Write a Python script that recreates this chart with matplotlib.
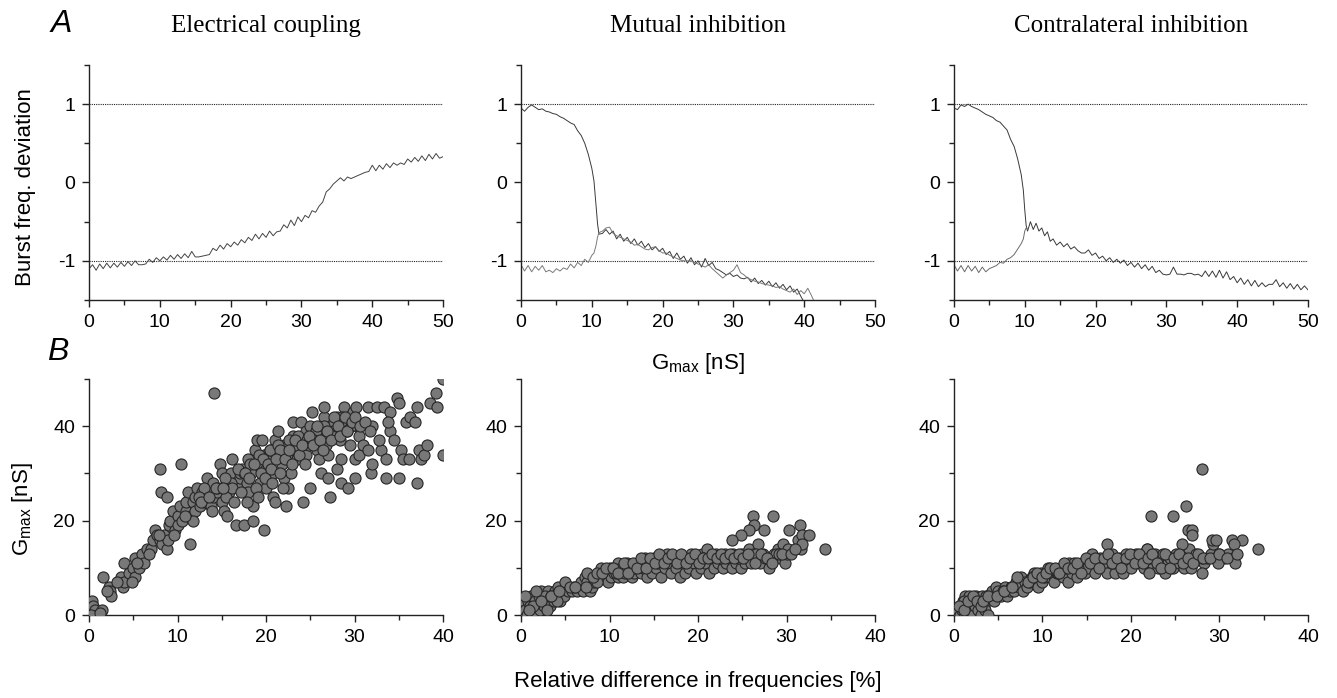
import numpy as np
import matplotlib.pyplot as plt
from matplotlib.ticker import MultipleLocator

plt.rcParams['font.family'] = ['Liberation Sans', 'DejaVu Sans']
plt.rcParams['mathtext.fontset'] = 'custom'
plt.rcParams['mathtext.rm'] = 'Liberation Sans'
plt.rcParams['mathtext.it'] = 'Liberation Sans:italic'
plt.rcParams['axes.unicode_minus'] = False

titles = ['Electrical coupling', 'Mutual inhibition', 'Contralateral inhibition']

# ---- A: burst frequency deviation vs Gmax ----
ec_x = [0, 0.5, 1, 1.5, 2, 2.5, 3, 3.5, 4, 4.5, 5, 5.5, 6, 6.5, 7, 7.5, 8, 8.5, 9, 9.5,
        10, 10.5, 11, 11.5, 12, 12.5, 13, 13.5, 14, 14.5, 15, 15.5, 16, 16.5, 17, 17.5, 18, 18.5, 19, 19.5,
        20, 20.5, 21, 21.5, 22, 22.5, 23, 23.5, 24, 24.5, 25, 25.5, 26, 26.5, 27, 27.5, 28, 28.5, 29, 29.5,
        30, 30.5, 31, 31.5, 32, 32.5, 33, 33.5, 34, 34.5, 35, 35.5, 36, 36.5, 37, 37.5, 38, 38.5, 39, 39.5,
        40, 40.5, 41, 41.5, 42, 42.5, 43, 43.5, 44, 44.5, 45, 45.5, 46, 46.5, 47, 47.5, 48, 48.5, 49, 49.5, 50]
ec_y = [-1.10, -1.05, -1.12, -1.04, -1.10, -1.03, -1.09, -1.03, -1.08, -1.02,
        -1.07, -1.01, -1.06, -1.00, -1.05, -1.05, -1.04, -0.98, -1.02, -0.96,
        -1.00, -0.95, -0.99, -0.93, -0.98, -0.92, -0.97, -0.91, -0.96, -0.88,
        -0.95, -0.95, -0.94, -0.93, -0.92, -0.84, -0.87, -0.80, -0.85, -0.78,
        -0.82, -0.76, -0.80, -0.73, -0.77, -0.70, -0.74, -0.66, -0.72, -0.65,
        -0.70, -0.62, -0.68, -0.63, -0.62, -0.54, -0.58, -0.48, -0.55, -0.44,
        -0.50, -0.42, -0.45, -0.36, -0.38, -0.30, -0.25, -0.12, -0.08, -0.02,
        0.02, 0.06, 0.02, 0.07, 0.05, 0.07, 0.09, 0.11, 0.13, 0.14,
        0.22, 0.15, 0.22, 0.17, 0.24, 0.19, 0.25, 0.22, 0.25, 0.23,
        0.30, 0.26, 0.32, 0.27, 0.34, 0.28, 0.36, 0.30, 0.37, 0.31, 0.33]

# mutual inhibition: branch starting near +1 and branch starting near -1
mi_a_x = [0, 0.5, 1, 1.5, 2, 2.5, 3, 3.5, 4, 4.5, 5, 5.5, 6, 6.5, 7, 7.5, 8, 8.5, 9, 9.5,
          10, 10.3, 10.6, 10.8, 11, 11.5, 12, 12.5, 13, 13.5, 14, 14.5, 15, 15.5, 16, 16.5, 17, 17.5,
          18, 18.5, 19, 19.5, 20, 20.5, 21, 21.5, 22, 22.5, 23, 23.5, 24, 24.5, 25, 25.5, 26, 26.5,
          27, 27.5, 28, 28.5, 29, 29.5, 30, 30.5, 31, 31.5, 32, 32.5, 33, 33.5, 34, 34.5, 35, 35.5,
          36, 36.5, 37, 37.5, 38, 38.5, 39, 39.5, 39.8]
mi_a_y = [0.95, 0.91, 0.96, 0.99, 0.96, 0.93, 0.94, 0.91, 0.90, 0.88, 0.87, 0.84, 0.82, 0.79, 0.76, 0.74,
          0.66, 0.60, 0.50, 0.36, 0.18, 0.02, -0.30, -0.52, -0.66,
          -0.65, -0.60, -0.66, -0.62, -0.72, -0.66, -0.75, -0.70, -0.78, -0.72, -0.80, -0.75, -0.83,
          -0.78, -0.86, -0.82, -0.88, -0.84, -0.92, -0.88, -0.97, -0.90, -0.98, -0.94, -1.03, -0.96, -1.05,
          -1.00, -1.08, -0.97, -1.06, -1.02, -1.10, -1.12, -1.15, -1.18, -1.16, -1.20, -1.18, -1.22, -1.23,
          -1.21, -1.27, -1.22, -1.29, -1.25, -1.31, -1.26, -1.33, -1.28, -1.35, -1.30, -1.37, -1.32, -1.40,
          -1.36, -1.45, -1.50]
mi_b_x = [0, 0.5, 1, 1.5, 2, 2.5, 3, 3.5, 4, 4.5, 5, 5.5, 6, 6.5, 7, 7.5, 8, 8.5, 9, 9.5,
          10, 10.3, 10.6, 10.8, 11, 11.5, 12, 12.5, 13, 13.5, 14, 14.5, 15, 15.5, 16, 16.5, 17, 17.5,
          18, 18.5, 19, 19.5, 20, 20.5, 21, 21.5, 22, 22.5, 23, 23.5, 24, 24.5, 25, 25.5, 26, 26.5,
          27, 27.5, 28, 28.5, 29, 29.5, 30, 30.5, 31, 31.5, 32, 32.5, 33, 33.5, 34, 34.5, 35, 35.5,
          36, 36.5, 37, 37.5, 38, 38.5, 39, 39.5, 40, 40.5, 41, 41.3]
mi_b_y = [-1.05, -1.13, -1.06, -1.14, -1.07, -1.12, -1.06, -1.14, -1.12, -1.15, -1.10, -1.13, -1.09,
          -1.11, -1.04, -1.09, -1.02, -1.06, -0.98, -1.02, -0.93, -0.90, -0.80, -0.70, -0.64,
          -0.62, -0.58, -0.57, -0.65, -0.68, -0.70, -0.72, -0.74, -0.76, -0.80, -0.79, -0.82, -0.85,
          -0.86, -0.83, -0.82, -0.87, -0.90, -0.90, -0.93, -0.95, -0.97, -0.99, -1.00, -1.00, -1.00, -1.02,
          -1.04, -1.06, -1.08, -1.05, -1.10, -1.14, -1.18, -1.22, -1.18, -1.15, -1.12, -1.05, -1.15, -1.18,
          -1.22, -1.24, -1.26, -1.27, -1.29, -1.30, -1.31, -1.32, -1.34, -1.33, -1.36, -1.38, -1.40, -1.36,
          -1.43, -1.38, -1.42, -1.35, -1.44, -1.50]

# contralateral inhibition
ci_a_x = [0, 0.5, 1, 1.5, 2, 2.5, 3, 3.5, 4, 4.5, 5, 5.5, 6, 6.5, 7, 7.5, 8, 8.5, 9, 9.5,
          9.8, 10, 10.2, 10.4, 10.8, 11.2, 11.6, 12, 12.4, 12.8, 13.2, 13.6, 14, 14.5, 15, 15.5, 16, 16.5,
          17, 17.5, 18, 18.5, 19, 19.5, 20, 20.5, 21, 21.5, 22, 22.5, 23, 23.5, 24, 24.5, 25, 25.5, 26,
          26.5, 27, 27.5, 28, 28.5, 29, 29.5, 30, 30.5, 31, 31.5, 32, 32.5, 33, 33.5, 34, 34.5, 35, 35.5,
          36, 36.5, 37, 37.5, 38, 38.5, 39, 39.5, 40, 40.5, 41, 41.5, 42, 42.5, 43, 43.5, 44, 44.5, 45,
          45.5, 46, 46.5, 47, 47.5, 48, 48.5, 49, 49.5, 50]
ci_a_y = [0.95, 0.93, 0.99, 0.97, 1.00, 0.97, 0.95, 0.93, 0.90, 0.87, 0.85, 0.83, 0.79, 0.77, 0.72, 0.67,
          0.55, 0.46, 0.30, 0.10, -0.10, -0.35, -0.55, -0.62,
          -0.50, -0.60, -0.52, -0.62, -0.58, -0.68, -0.63, -0.75, -0.72, -0.80, -0.76, -0.82, -0.78, -0.85,
          -0.82, -0.87, -0.90, -0.90, -0.86, -0.93, -0.90, -0.97, -0.94, -1.00, -0.96, -1.02, -0.98, -1.03,
          -0.99, -1.06, -1.02, -1.08, -1.03, -1.10, -1.05, -1.12, -1.07, -1.15, -1.12, -1.17, -1.18, -1.17,
          -1.08, -1.17, -1.17, -1.18, -1.16, -1.16, -1.18, -1.17, -1.20, -1.13, -1.20, -1.13, -1.21, -1.12,
          -1.22, -1.14, -1.24, -1.20, -1.28, -1.22, -1.30, -1.24, -1.32, -1.25, -1.33, -1.28, -1.33, -1.30,
          -1.30, -1.24, -1.33, -1.28, -1.35, -1.29, -1.36, -1.30, -1.37, -1.32, -1.37]
ci_b_x = [0, 0.5, 1, 1.5, 2, 2.5, 3, 3.5, 4, 4.5, 5, 5.5, 6, 6.5, 7, 7.5, 8, 8.5, 9, 9.5,
          9.8, 10, 10.2, 10.4]
ci_b_y = [-1.05, -1.13, -1.06, -1.14, -1.06, -1.13, -1.07, -1.15, -1.08, -1.14, -1.10, -1.08, -1.06,
          -1.02, -1.03, -0.98, -0.96, -0.92, -0.85, -0.78, -0.72, -0.62, -0.58, -0.60]

# ---- B: Gmax vs relative frequency difference ----
ec_sx = [0.3, 0.5, 0.7, 1.0, 1.5, 0.2, 1.2, 1.6, 2.2, 2.4, 2.5, 2.0, 3.6, 3.8, 4.0, 4.0, 4.5, 5.0, 5.2, 5.2,
         5.6, 6.0, 6.2, 6.5, 7.0, 7.2, 7.5, 7.7, 8.0, 8.2, 8.5, 8.8, 8.9, 8.0, 8.1, 8.8, 9.0, 9.2, 9.5, 9.7,
         10.0, 10.0, 10.3, 10.4, 10.5, 11.0, 11.0, 11.2, 11.4, 11.5, 11.7, 12.0, 12.0, 12.2, 12.5, 12.8, 13.0,
         13.3, 13.5, 13.8, 14.0, 14.0, 14.1, 14.5, 14.8, 15.0, 15.0, 15.2, 15.5, 15.6, 15.8, 16.0, 16.2, 16.5,
         16.6, 16.8, 17.0, 17.3, 17.5, 17.8, 18.0, 18.0, 18.3, 18.5, 18.5, 18.7, 19.0, 19.0, 19.3, 19.5, 19.8,
         19.8, 20.0, 20.0, 20.3, 20.5, 20.8, 20.8, 21.0, 21.0, 21.3, 21.5, 21.8, 22.0, 22.0, 22.3, 22.5, 22.5,
         22.8, 23.0, 23.0, 23.3, 23.5, 23.8, 24.0, 24.2, 24.5, 24.5, 24.8, 25.0, 25.0, 25.2, 25.5, 25.8, 26.0,
         26.0, 26.2, 26.5, 26.5, 26.8, 27.0, 27.0, 27.2, 27.5, 27.8, 28.0, 28.0, 28.3, 28.5, 28.5, 28.8, 29.0,
         29.0, 29.3, 29.5, 29.8, 30.0, 30.0, 30.2, 30.3, 30.5, 30.5, 31.0, 31.5, 31.5, 31.8, 32.0, 32.0, 32.5,
         33.0, 33.3, 33.5, 33.5, 34.0, 34.0, 34.5, 34.8, 35.0, 35.0, 35.3, 35.5, 35.8, 36.3, 36.8, 37.0, 37.0,
         37.3, 37.5, 37.8, 38.5, 39.2, 39.3, 40.0, 40.0,
         16.0, 17.0, 18.2, 19.2, 20.4, 21.4, 22.6, 23.6, 24.6, 25.6, 26.6, 27.6, 28.6, 29.6, 13.0, 14.5,
         17.5, 19.6, 21.6, 23.4, 25.4, 27.4, 29.2, 12.4, 15.4,
         15.5, 16.2, 16.8, 17.2, 17.6, 18.1, 18.6, 18.9, 19.4, 19.9, 20.2, 20.6, 21.1, 21.6, 22.1, 22.6,
         22.9, 23.3, 23.7, 24.1, 24.4, 24.9, 25.3, 25.7, 26.1, 26.4, 26.9, 27.3, 27.7, 28.1, 28.4, 28.9,
         29.2, 29.7, 30.1, 30.6, 31.2, 16.4, 17.9, 19.1, 20.7, 21.9, 12.6, 13.6, 14.3, 11.8, 10.8, 9.6,
         13.9, 15.1, 6.8, 5.4, 3.2, 4.8, 7.9, 36.2, 38.2, 33.8, 32.8, 31.7]
ec_sy = [3, 2, 1, 0, 1, 0, 0.5, 8, 6, 5, 4, 5, 8, 6, 7, 11, 9, 10, 8, 12,
         10, 13, 11, 14, 14, 16, 18, 17, 16, 15, 17, 14, 16, 31, 26, 25, 19, 20, 22, 18,
         21, 19, 23, 32, 20, 22, 24, 26, 15, 21, 24, 22, 25, 27, 23, 26, 24,
         29, 26, 23, 28, 25, 47, 26, 32, 30, 24, 22, 28, 21, 26, 30, 33, 28,
         19, 27, 29, 31, 19, 28, 33, 26, 30, 23, 20, 35, 37, 32, 28, 37, 18,
         34, 31, 27, 33, 35, 30, 25, 24, 37, 39, 34, 32, 36, 29, 23, 27, 33,
         30, 38, 41, 35, 33, 37, 41, 24, 39, 34, 36, 27, 40, 43, 38, 35, 33,
         39, 30, 42, 44, 36, 29, 34, 25, 40, 38, 31, 42, 37, 28, 33, 44, 40,
         41, 27, 36, 43, 29, 33, 44, 40, 38, 34, 36, 44, 35, 30, 32, 40, 44,
         35, 44, 33, 29, 43, 39, 37, 46, 45, 29, 35, 33, 41, 42, 41, 44, 28,
         35, 33, 34, 45, 47, 44, 50, 34,
         28, 30, 32, 34, 35, 36, 37, 38, 37, 39, 40, 39, 42, 40, 27, 27,
         30, 33, 35, 36, 37, 38, 39, 25, 29,
         25, 27, 31, 26, 30, 29, 32, 27, 30, 29, 32, 31, 33, 30, 33, 35,
         32, 37, 34, 36, 32, 38, 36, 40, 37, 35, 39, 37, 42, 40, 38, 42,
         39, 41, 42, 40, 41, 24, 24, 25, 28, 27, 24, 25, 27, 20, 21, 17,
         22, 27, 13, 11, 7, 7, 17, 33, 36, 41, 37, 39]

mi_sx = [0.1, 0.2, 0.3, 0.5, 0.7, 0.8, 1.0, 1.1, 1.3, 1.5, 1.6, 1.8, 2.0, 2.1, 2.3, 2.4, 2.6, 2.8, 3.0, 3.1,
         3.3, 3.5, 3.7, 3.8, 4.0, 4.2, 4.4, 4.6, 4.8, 5.0, 5.0, 5.3, 5.8, 6.3, 6.6, 6.8, 7.0, 7.2, 7.5, 7.5,
         7.8, 8.0, 8.3, 8.8, 9.0, 9.3, 9.5, 9.8, 10.0, 10.2, 10.5, 11.0, 11.0, 11.3, 11.5, 11.8, 12.0, 12.3,
         12.5, 12.8, 13.0, 13.2, 13.5, 13.8, 14.0, 14.2, 14.5, 14.8, 15.0, 15.2, 15.5, 15.8, 16.0, 16.3, 16.5,
         16.8, 17.0, 17.2, 17.5, 17.8, 18.0, 18.2, 18.5, 18.8, 19.0, 19.2, 19.5, 19.8, 20.0, 20.3, 20.5, 20.8,
         21.0, 21.2, 21.5, 21.8, 22.0, 22.3, 22.5, 22.8, 23.0, 23.2, 23.5, 23.8, 24.0, 24.3, 24.5, 24.8, 25.0,
         25.3, 25.5, 25.8, 26.0, 26.2, 26.5, 26.8, 27.0, 27.3, 27.6, 28.0, 28.3, 28.6, 29.0, 29.3, 29.6, 29.8,
         30.0, 30.2, 26.2, 26.3, 25.8, 24.8, 23.8, 27.5, 28.5, 30.3, 31.5, 31.3, 31.7, 32.5, 31.6, 31.8, 34.3,
         1.4, 2.7, 3.4, 4.1, 6.0, 8.6, 10.7, 12.7, 14.4, 16.6, 18.6, 20.6, 22.6, 24.6, 26.6, 28.8,
         0.4, 0.9, 1.7, 2.2, 2.9, 3.4, 4.3, 5.5, 6.1, 7.3, 8.1, 8.6, 9.1, 9.6, 10.4, 10.9, 11.6, 12.1,
         12.6, 13.1, 13.6, 14.1, 14.6, 15.1, 15.6, 16.1, 16.6, 17.1, 17.6, 18.1, 18.6, 19.1, 19.6, 20.1,
         20.6, 21.1, 21.6, 22.1, 22.6, 23.1, 23.6, 24.1, 24.6, 25.1, 25.6, 26.4, 27.1, 27.8, 28.4, 29.1,
         29.5, 30.5, 31.0]
mi_sy = [0, 2, 3, 1, 0, 3, 2, 4, 1, 0, 3, 2, 4, 1, 5, 3, 2, 4, 3, 5,
         2, 4, 3, 5, 4, 6, 3, 5, 4, 6, 7, 5, 5, 5, 6, 7, 5, 8, 7, 9,
         5, 6, 7, 8, 10, 8, 9, 7, 10, 8, 9, 8, 11, 10, 8, 9, 11, 10,
         8, 9, 10, 11, 9, 10, 12, 8, 11, 9, 12, 10, 11, 8, 12, 10, 13,
         11, 9, 12, 10, 12, 8, 11, 9, 12, 10, 13, 11, 9, 12, 10, 13, 11,
         14, 9, 12, 10, 13, 11, 12, 10, 13, 11, 12, 10, 13, 11, 12, 10, 13,
         11, 12, 14, 11, 13, 12, 15, 11, 13, 12, 10, 12, 13, 14, 12, 15, 11,
         13, 14, 21, 19, 18, 17, 16, 18, 21, 18, 19, 16, 17, 17, 14, 15, 14,
         2, 4, 4, 3, 6, 7, 9, 10, 11, 12, 12, 12, 12, 12, 13, 13,
         4, 1, 5, 3, 1, 4, 5, 6, 6, 6, 8, 9, 9, 10, 10, 9, 11, 9,
         11, 10, 12, 10, 12, 11, 13, 11, 12, 13, 11, 13, 11, 12, 13, 11,
         12, 12, 13, 12, 13, 12, 13, 12, 13, 12, 13, 11, 13, 12, 11, 13,
         13, 13, 14]

ci_sx = [0.3, 0.5, 0.7, 0.9, 1.0, 1.2, 1.3, 1.5, 1.7, 1.8, 2.0, 2.2, 2.4, 2.5, 2.7, 2.9, 3.0, 3.2, 3.4, 3.5,
         3.7, 3.8, 4.3, 4.5, 4.7, 5.0, 5.3, 5.8, 6.0, 6.3, 6.5, 6.8, 7.0, 7.3, 7.6, 7.8, 8.0, 8.3, 8.6, 9.0,
         9.2, 9.5, 9.8, 10.0, 10.3, 10.6, 10.8, 11.0, 11.3, 11.6, 12.0, 12.3, 12.6, 12.9, 13.0, 13.3, 13.6,
         13.9, 14.2, 14.5, 14.8, 15.0, 15.3, 15.6, 15.9, 16.2, 16.5, 16.8, 17.0, 17.3, 17.6, 17.9, 18.2, 18.5,
         18.8, 19.1, 19.4, 19.7, 20.0, 20.3, 20.6, 20.9, 21.2, 21.5, 21.8, 22.1, 22.4, 22.7, 23.0, 23.3, 23.6,
         23.9, 24.2, 24.5, 24.8, 25.1, 25.4, 25.7, 26.0, 26.3, 26.6, 26.8, 27.1, 27.4, 27.7, 28.3, 28.6, 29.0,
         29.3, 29.5, 30.0, 30.5, 31.0, 31.5, 22.3, 24.8, 26.2, 26.5, 26.9, 26.9, 28.0, 29.2, 29.6, 31.4, 32.6,
         17.3, 25.8, 34.3, 31.6, 28.0, 29.8, 31.8, 22.0, 21.8,
         1.1, 2.6, 3.6, 5.5, 8.8, 11.8, 14.0, 16.0, 18.0, 20.2, 22.2, 24.4, 26.0, 28.0,
         0.6, 1.1, 1.6, 2.1, 2.6, 3.1, 3.3, 3.9, 4.9, 5.6, 6.6, 7.1, 8.4, 8.9, 9.4, 9.9, 10.4, 10.9,
         11.4, 11.9, 12.4, 12.9, 13.4, 13.9, 14.4, 14.9, 15.4, 15.9, 16.4, 16.9, 17.4, 17.9, 18.4, 18.9,
         19.4, 19.9, 20.4, 20.9, 21.4, 21.9, 22.4, 22.9, 23.4, 23.9, 24.4, 24.9, 25.4, 25.9, 26.4, 27.0,
         27.6, 28.1, 28.9, 29.9, 30.8, 32.0]
ci_sy = [0, 1, 0, 1, 3, 4, 0, 2, 4, 1, 3, 0, 2, 4, 1, 3, 0, 4, 2, 1,
         4, 0, 5, 3, 6, 5, 4, 6, 4, 5, 6, 5, 7, 6, 8, 5, 7, 6, 7, 9,
         8, 6, 9, 7, 8, 10, 8, 9, 7, 9, 10, 8, 10, 7, 11, 9, 11,
         8, 10, 11, 9, 10, 12, 13, 9, 11, 12, 10, 11, 9, 12, 13, 9, 11,
         12, 9, 13, 11, 10, 12, 13, 11, 12, 10, 14, 12, 11, 13, 10, 12, 13,
         9, 11, 12, 10, 13, 11, 12, 10, 13, 14, 10, 12, 13, 12, 11, 12, 13,
         15, 12, 13, 12, 13, 12, 21, 21, 23, 18, 18, 17, 31, 16, 16, 16, 16,
         15, 15, 14, 15, 9, 11, 11, 9, 14,
         3, 3, 4, 5, 8, 9, 10, 11, 11, 12, 12, 12, 12, 12,
         2, 1, 3, 4, 3, 2, 3, 4, 4, 5, 6, 8, 7, 8, 9, 8, 9, 10,
         10, 9, 11, 10, 10, 11, 9, 12, 11, 12, 10, 12, 13, 11, 12, 10,
         12, 13, 11, 13, 11, 12, 13, 11, 10, 13, 10, 12, 13, 11, 12, 11,
         13, 12, 12, 13, 12, 13]

fig = plt.figure(figsize=(13.37, 6.98), dpi=100)
lefts = [0.0666, 0.3897, 0.7135]
w = 0.2648
top_axes = [fig.add_axes([l, 0.5702, w, 0.3367]) for l in lefts]
bot_axes = [fig.add_axes([l, 0.1189, w, 0.338]) for l in lefts]


def style(ax):
    for s in ['top', 'right']:
        ax.spines[s].set_visible(False)
    for s in ['left', 'bottom']:
        ax.spines[s].set_linewidth(1.0)
        ax.spines[s].set_color('#222222')
    ax.tick_params(which='major', direction='out', length=5, width=1, labelsize=14, pad=5, color='#222222')
    ax.tick_params(which='minor', direction='out', length=3.5, width=1, color='#222222')


traces = [[(ec_x, ec_y, '#444444')],
          [(mi_a_x, mi_a_y, '#3a3a3a'), (mi_b_x, mi_b_y, '#7a7a7a')],
          [(ci_a_x, ci_a_y, '#3a3a3a'), (ci_b_x, ci_b_y, '#6a6a6a')]]

for ax, title, tr in zip(top_axes, titles, traces):
    style(ax)
    ax.hlines([1, -1], 0, 50, colors='#222222', linestyles=(0, (1, 1)), linewidth=0.8)
    for x, y, c in tr:
        ax.plot(x, y, color=c, linewidth=0.7)
    ax.set_xlim(0, 50)
    ax.set_ylim(-1.5, 1.5)
    ax.xaxis.set_major_locator(MultipleLocator(10))
    ax.xaxis.set_minor_locator(MultipleLocator(5))
    ax.set_yticks([-1, 0, 1])
    ax.set_yticks([-1.5, -0.5, 0.5, 1.5], minor=True)
    ax.set_title(title, fontfamily='Liberation Serif', fontsize=18, pad=24)

scat = [(ec_sx, ec_sy), (mi_sx, mi_sy), (ci_sx, ci_sy)]
for ax, (x, y) in zip(bot_axes, scat):
    style(ax)
    ax.scatter(x, y, s=64, c='#787878', edgecolors='#262626', linewidths=0.8, zorder=3)
    ax.set_xlim(0, 40)
    ax.set_ylim(0, 50)
    ax.xaxis.set_major_locator(MultipleLocator(10))
    ax.xaxis.set_minor_locator(MultipleLocator(5))
    ax.set_yticks([0, 20, 40])
    ax.set_yticks([10, 30, 50], minor=True)

mid = lefts[1] + w / 2
fig.text(0.0187, 0.732, 'Burst freq. deviation', rotation=90, ha='center', va='center', fontsize=16)
fig.text(0.0165, 0.27, r'G$_{\rm max}$ [nS]', rotation=90, ha='center', va='center', fontsize=16)
fig.text(mid, 0.471, r'G$_{\rm max}$ [nS]', ha='center', va='baseline', fontsize=16)
fig.text(mid, 0.023, 'Relative difference in frequencies [%]', ha='center', va='center', fontsize=16)
fig.text(0.046, 0.966, 'A', fontsize=23, fontstyle='italic', ha='center', va='center')
fig.text(0.043, 0.496, 'B', fontsize=23, fontstyle='italic', ha='center', va='center')

fig.savefig('out.png', dpi=100)
